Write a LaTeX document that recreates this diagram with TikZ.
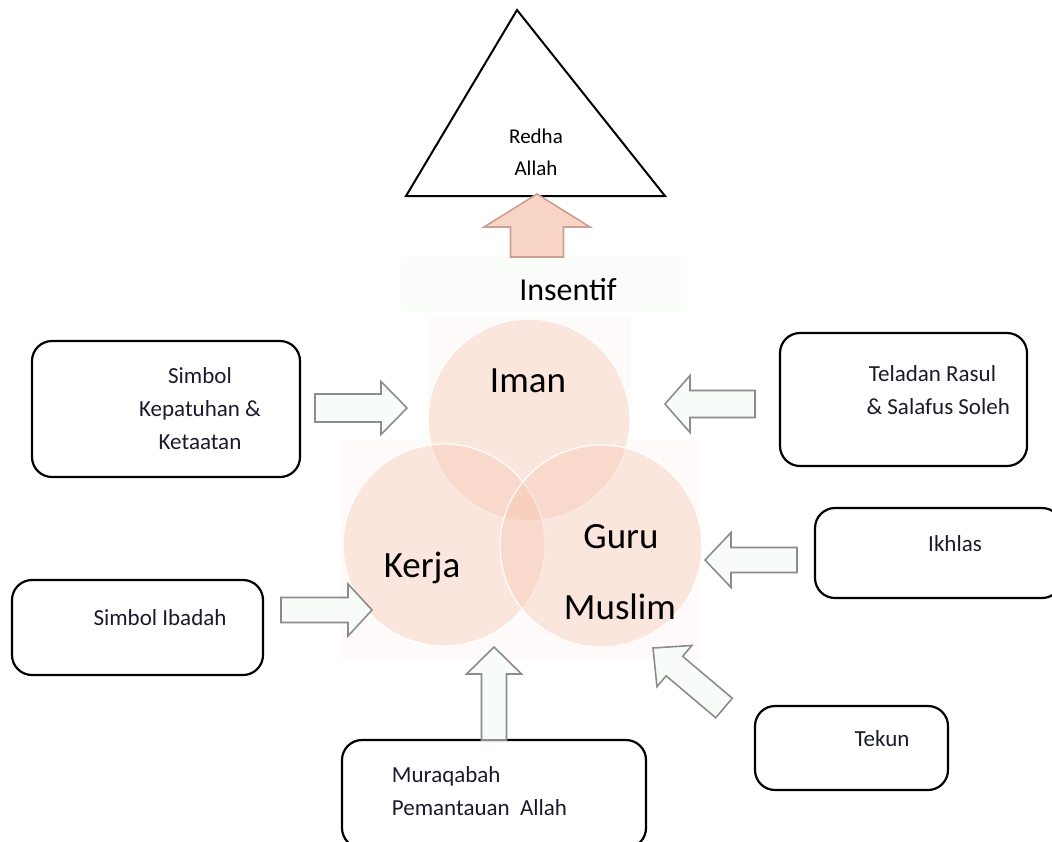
\documentclass[tikz,border=0pt]{standalone}
\usepackage{fontspec}
\setmainfont{Carlito}
\usetikzlibrary{calc,shapes.geometric}

\definecolor{vennpink}{HTML}{F7BFA8}
\definecolor{arrgray}{HTML}{8C8C8C}
\definecolor{arrfill}{HTML}{F7FCF8}
\definecolor{upfill}{HTML}{F8D4C7}
\definecolor{updraw}{HTML}{C9A192}
\definecolor{boxtext}{HTML}{1A1A2E}
\definecolor{insfill}{HTML}{FAFDFA}
\definecolor{backfill}{HTML}{FEFAF9}

% block arrow: style, from, to, shaft half width, head half width, head length
\newcommand{\blockarrow}[6]{%
  \coordinate (ba-h) at ($(#3)!#6!(#2)$);
  \draw[#1] ($(#2)!#4!90:(#3)$) -- ($(ba-h)!#4!90:(#3)$) -- ($(ba-h)!#5!90:(#3)$) -- (#3)
    -- ($(ba-h)!#5!-90:(#3)$) -- ($(ba-h)!#4!-90:(#3)$) -- ($(#2)!#4!-90:(#3)$) -- cycle;
}

\begin{document}
\begin{tikzpicture}[
    x=0.5pt, y=-0.5pt,
    venn/.style     = {circle,
                       minimum size=101pt,
                       fill=vennpink,
                       fill opacity=0.33,
                       draw=white,
                       line width=0.6pt},
    venntext/.style = {font=\fontsize{18.5}{22}\selectfont},
    boxstyle/.style = {draw,
                       line width=1.1pt,
                       rounded corners=10pt,
                       inner sep=0pt,
                       outer sep=0pt},
    boxlabel/.style = {align=center,
                       text=boxtext,
                       font=\fontsize{11.5}{16.5}\selectfont},
    grayarr/.style  = {draw=arrgray,
                       fill=arrfill,
                       line width=0.8pt,
                       line join=miter},
    uparr/.style    = {draw=updraw,
                       fill=upfill,
                       line width=0.8pt}
]
\useasboundingbox (0,0) rectangle (1052,841);

% faint backgrounds behind the circles
\fill[backfill] (428,317) rectangle (631,440);
\fill[backfill] (341,440) rectangle (700,660);

% triangle
\coordinate (tri-top) at (517,10);
\coordinate (tri-l) at (406,196);
\coordinate (tri-r) at (665,196);
\draw[line width=1pt, line join=miter] (tri-top) -- (tri-r) -- (tri-l) -- cycle;
\node (redha) [font=\fontsize{10.5}{16}\selectfont, align=center] at (536,152) {Redha\\Allah};

% venn circles
\node (iman)  [venn] at (529,420) {};
\node (kerja) [venn] at (444,545) {};
\node (guru)  [venn] at (601,546) {};
\node (iman-t)   [venntext] at (528,381) {Iman};
\node (kerja-t)  [venntext] at (422,568) {Kerja};
\node (guru-t)   [venntext] at (621,537) {Guru};
\node (muslim-t) [venntext] at (620,607) {Muslim};

% insentif
\node (insentif) [fill=insfill, rounded corners=3pt,
                  minimum width=143pt, minimum height=28.5pt] at (543,283.5) {};
\node (insentif-t) [font=\fontsize{16}{19}\selectfont] at (568,290) {Insentif};

% boxes
\node (kepatuhan) [boxstyle, minimum width=134pt, minimum height=68pt,
    label={[boxlabel, xshift=17pt]center:{Simbol\\Kepatuhan \&\\Ketaatan}}] at (166,409) {};
\node (teladan) [boxstyle, minimum width=123.5pt, minimum height=66.5pt,
    label={[boxlabel, xshift=14.5pt, yshift=4.75pt]center:{Teladan Rasul\\\enspace\& Salafus Soleh}}] at (903.5,399.5) {};
\node (ikhlas) [boxstyle, minimum width=123.5pt, minimum height=45pt,
    label={[boxlabel, xshift=8.25pt, yshift=4.5pt]center:Ikhlas}] at (938.5,553) {};
\node (ibadah) [boxstyle, minimum width=125.5pt, minimum height=47.5pt,
    label={[boxlabel, xshift=11.25pt, yshift=4.75pt]center:Simbol Ibadah}] at (137.5,627.5) {};
\node (tekun) [boxstyle, minimum width=96.5pt, minimum height=42pt,
    label={[boxlabel, xshift=15.25pt, yshift=4.5pt]center:Tekun}] at (851.5,748) {};
\node (muraqabah) [boxstyle, minimum width=152pt, minimum height=54pt,
    label={[boxlabel, align=left, xshift=-7.25pt, yshift=1.25pt]center:{Muraqabah\\Pemantauan~ Allah}}] at (494,794) {};

% arrow ends
\coordinate (up-s) at (537,257);
\coordinate (up-t) at (537,194);
\coordinate (kep-s) at (315,408);
\coordinate (kep-t) at (407,408);
\coordinate (tel-s) at (755,404);
\coordinate (tel-t) at (665,404);
\coordinate (ikh-s) at (797,560);
\coordinate (ikh-t) at (705,560);
\coordinate (iba-s) at (281,610);
\coordinate (iba-t) at (372,610);
\coordinate (mur-s) at (494,740);
\coordinate (mur-t) at (494,647);
\coordinate (tek-s) at (724,708);
\coordinate (tek-t) at (653,648);

% arrows
\blockarrow{uparr}{up-s}{up-t}{13.25pt}{26.5pt}{16.5pt}
\blockarrow{grayarr}{kep-s}{kep-t}{7pt}{13.25pt}{13pt}
\blockarrow{grayarr}{tel-s}{tel-t}{6.75pt}{14.25pt}{12.5pt}
\blockarrow{grayarr}{ikh-s}{ikh-t}{6.25pt}{13.75pt}{13pt}
\blockarrow{grayarr}{iba-s}{iba-t}{6.25pt}{13pt}{12pt}
\blockarrow{grayarr}{mur-s}{mur-t}{6.25pt}{13.75pt}{13.5pt}
\blockarrow{grayarr}{tek-s}{tek-t}{6.4pt}{13.5pt}{14pt}

\end{tikzpicture}
\end{document}
